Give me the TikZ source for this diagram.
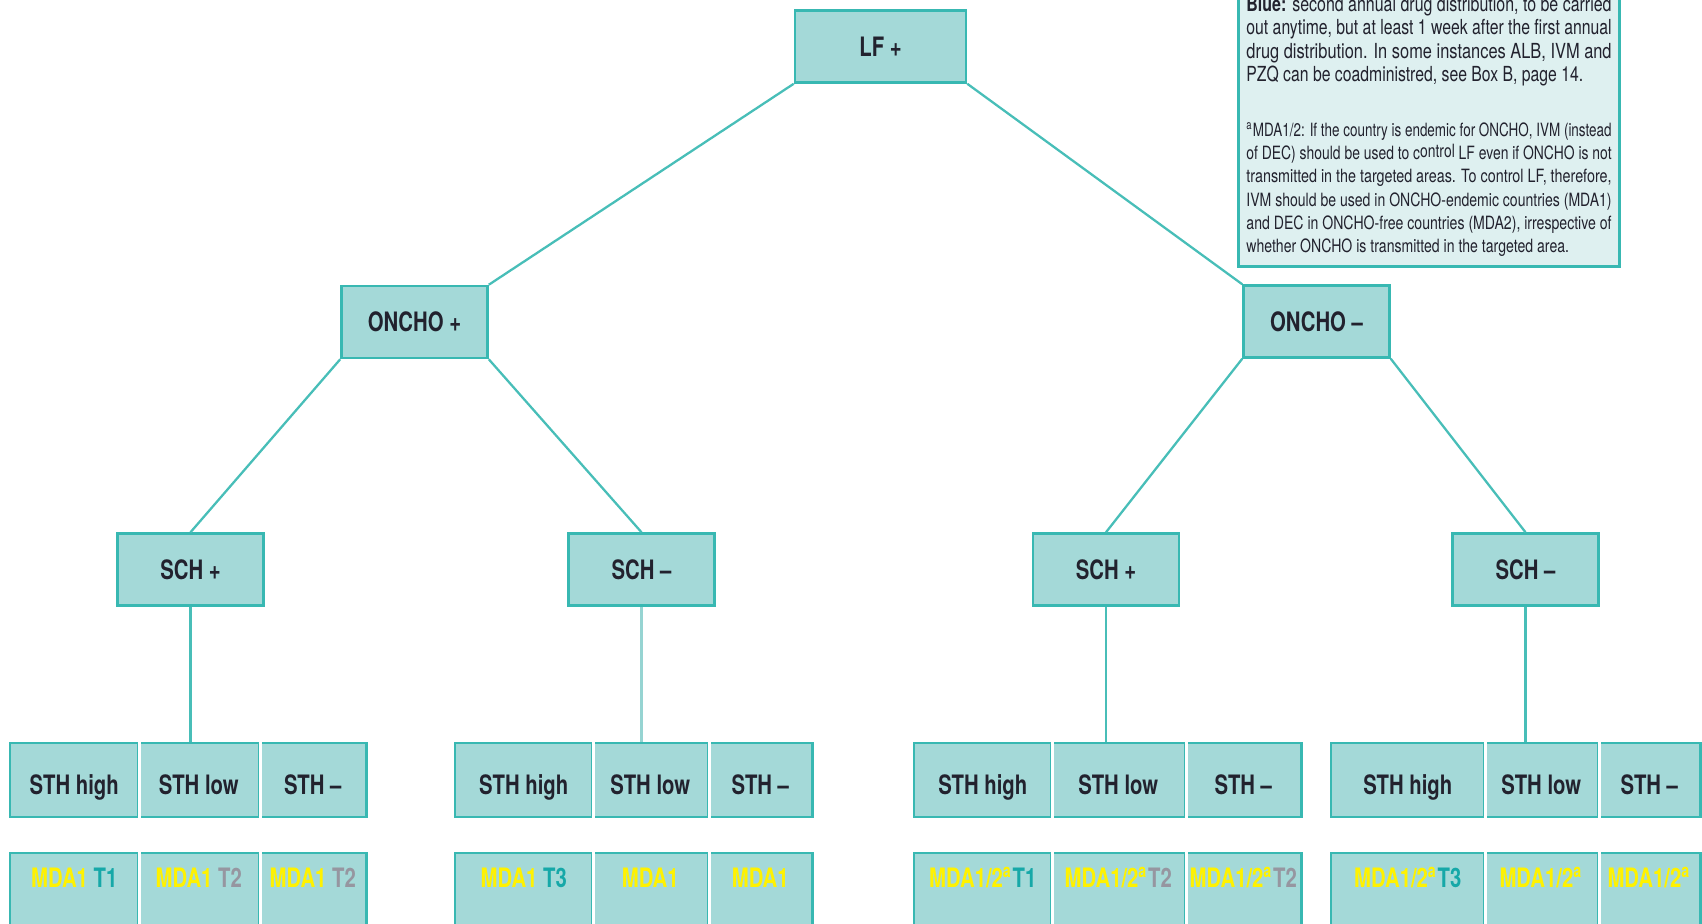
\documentclass[tikz,border=0pt]{standalone}
\usepackage{fontspec}
\usepackage{graphicx}
\setmainfont{TeX Gyre Heros}
\newfontfamily\boxfont{TeX Gyre Heros}[FakeStretch=0.76]
\definecolor{boxfill}{RGB}{164,217,216}
\definecolor{boxline}{RGB}{56,184,178}
\definecolor{linkteal}{RGB}{72,190,184}
\definecolor{linkpale}{RGB}{150,212,210}
\definecolor{notefill}{RGB}{222,240,240}
\definecolor{ink}{RGB}{34,34,46}
\definecolor{mdayellow}{RGB}{255,242,0}
\definecolor{tteal}{RGB}{22,168,168}
\definecolor{tgrey}{RGB}{150,150,160}
% one full line of the key, squeezed to the box width
\newcommand{\noteline}[1]{\hbox{\resizebox{3.65cm}{\height}{#1}}}
\newcommand{\notelast}[2]{\hbox{\scalebox{#1}[1]{#2}}}

\begin{document}
\begin{tikzpicture}[
  x=0.01cm, y=-0.01cm,
  level/.style={rectangle, draw=boxline, fill=boxfill, line width=0.7pt, minimum width=1.46cm, minimum height=0.72cm, inner sep=0pt, text height=5.5pt, text depth=0pt, text=ink, font=\boxfont\bfseries\fontsize{7.6pt}{9pt}\selectfont},
  % one cell of a STH row, placed by its west side
  sth/.style={rectangle, draw=boxline, fill=boxfill, line width=0.7pt, anchor=west, minimum height=0.74cm, inner sep=0pt, text height=8pt, text depth=0pt, text=ink, font=\boxfont\bfseries\fontsize{7.6pt}{9pt}\selectfont},
  % MDA cells run past the lower edge, text sits near their top
  mda/.style={rectangle, draw=boxline, fill=boxfill, line width=0.7pt, anchor=north west, inner sep=0pt, text height=0.34cm, text depth=1.2cm, text=mdayellow, font=\boxfont\bfseries\fontsize{7.6pt}{9pt}\selectfont},
  note/.style={rectangle, draw=boxline, fill=notefill, line width=0.8pt, inner xsep=0.08cm, inner ysep=0.1cm, text=ink},
  link/.style={draw=linkteal, line width=0.65pt},
  divider/.style={draw=white, line width=1pt}
]
\useasboundingbox (0,0) rectangle (1702,923);
\clip (0,0) rectangle (1702,923);

% Tree levels
\node[level, minimum width=1.71cm] (lf) at (880.5,46.5) {LF +};
\node[level] (onchoP) at (414.5,322) {ONCHO +};
\node[level] (onchoM) at (1316.5,321.5) {ONCHO –};

\node[level] (schA) at (190.5,569.5) {SCH +};
\node[level] (schB) at (641.5,569.5) {SCH –};
\node[level] (schC) at (1106,569.5) {SCH +};
\node[level] (schD) at (1525.5,569.5) {SCH –};

% STH rows
\node[sth, minimum width=1.28cm] (sA1) at (9,780) {STH high};
\node[sth, minimum width=1.21cm] (sA2) at (137,780) {STH low};
\node[sth, minimum width=1.07cm] (sA3) at (258,780) {STH –};

\node[sth, minimum width=1.37cm] (sB1) at (454,780) {STH high};
\node[sth, minimum width=1.16cm] (sB2) at (591,780) {STH low};
\node[sth, minimum width=1.04cm] (sB3) at (707,780) {STH –};

\node[sth, minimum width=1.37cm] (sC1) at (913,780) {STH high};
\node[sth, minimum width=1.34cm] (sC2) at (1050,780) {STH low};
\node[sth, minimum width=1.16cm] (sC3) at (1184,780) {STH –};

\node[sth, minimum width=1.53cm] (sD1) at (1330,780) {STH high};
\node[sth, minimum width=1.14cm] (sD2) at (1483,780) {STH low};
\node[sth, minimum width=1.02cm] (sD3) at (1597,780) {STH –};

% MDA rows
\node[mda, minimum width=1.28cm] (mA1) at (9,852) {MDA1 \textcolor{tteal}{T1}};
\node[mda, minimum width=1.21cm] (mA2) at (137,852) {MDA1 \textcolor{tgrey}{T2}};
\node[mda, minimum width=1.07cm] (mA3) at (258,852) {MDA1 \textcolor{tgrey}{T2}};

\node[mda, minimum width=1.37cm] (mB1) at (454,852) {MDA1 \textcolor{tteal}{T3}};
\node[mda, minimum width=1.16cm] (mB2) at (591,852) {MDA1};
\node[mda, minimum width=1.04cm] (mB3) at (707,852) {MDA1};

\node[mda, minimum width=1.37cm] (mC1) at (913,852) {MDA1/2\textsuperscript{a}\textcolor{tteal}{T1}};
\node[mda, minimum width=1.34cm] (mC2) at (1050,852) {MDA1/2\textsuperscript{a}\textcolor{tgrey}{T2}};
\node[mda, minimum width=1.16cm] (mC3) at (1184,852) {MDA1/2\textsuperscript{a}\textcolor{tgrey}{T2}};

\node[mda, minimum width=1.53cm] (mD1) at (1330,852) {MDA1/2\textsuperscript{a}\textcolor{tteal}{T3}};
\node[mda, minimum width=1.14cm] (mD2) at (1483,852) {MDA1/2\textsuperscript{a}};
\node[mda, minimum width=1.02cm] (mD3) at (1597,852) {MDA1/2\textsuperscript{a}};

% white gaps between cells
\foreach \c in {sA1,sA2,sB1,sB2,sC1,sC2,sD1,sD2,mA1,mA2,mB1,mB2,mC1,mC2,mD1,mD2}
  \draw[divider] (\c.north east) -- (\c.south east);

% Connectors
\draw[link] (lf.south west) -- (onchoP.north east);
\draw[link] (lf.south east) -- (onchoM.north west);
\draw[link] (onchoP.south west) -- (schA.north);
\draw[link] (onchoP.south east) -- (schB.north);
\draw[link] (onchoM.south west) -- (schC.north);
\draw[link] (onchoM.south east) -- (schD.north);
\draw[link] (schA.south) -- (schA.south |- sA2.north);
\draw[link, draw=linkpale] (schB.south) -- (schB.south |- sB2.north);
\draw[link] (schC.south) -- (schC.south |- sC2.north);
\draw[link] (schD.south) -- (schD.south |- sD2.north);

% Key box, top right
\node[note, anchor=south west] (note) at (1237,268) {\vbox{%
  \baselineskip=6.6pt \lineskiplimit=-10pt
  \fontsize{5.9pt}{6.6pt}\selectfont
  \noteline{\textbf{Blue:} second annual drug distribution, to be carried}
  \noteline{out anytime, but at least 1 week after the first annual}
  \noteline{drug distribution. In some instances ALB, IVM and}
  \notelast{0.76}{PZQ can be coadministred, see Box B, page 14.}
  \vskip 0.32cm
  \fontsize{5.2pt}{6.6pt}\selectfont
  \noteline{\textsuperscript{a}MDA1/2: If the country is endemic for ONCHO, IVM (instead}
  \noteline{of DEC) should be used to c\raisebox{0.6pt}{ontrol} LF even if ONCHO is not}
  \noteline{transmitted in the targeted areas. To control LF, therefore,}
  \noteline{IVM should be used in ONCHO-endemic countries (MDA1)}
  \noteline{and DEC in ONCHO-free countries (MDA2), irrespective of}
  \notelast{0.77}{whether ONCHO is transmitted in the targeted area.}
}};

\end{tikzpicture}
\end{document}
